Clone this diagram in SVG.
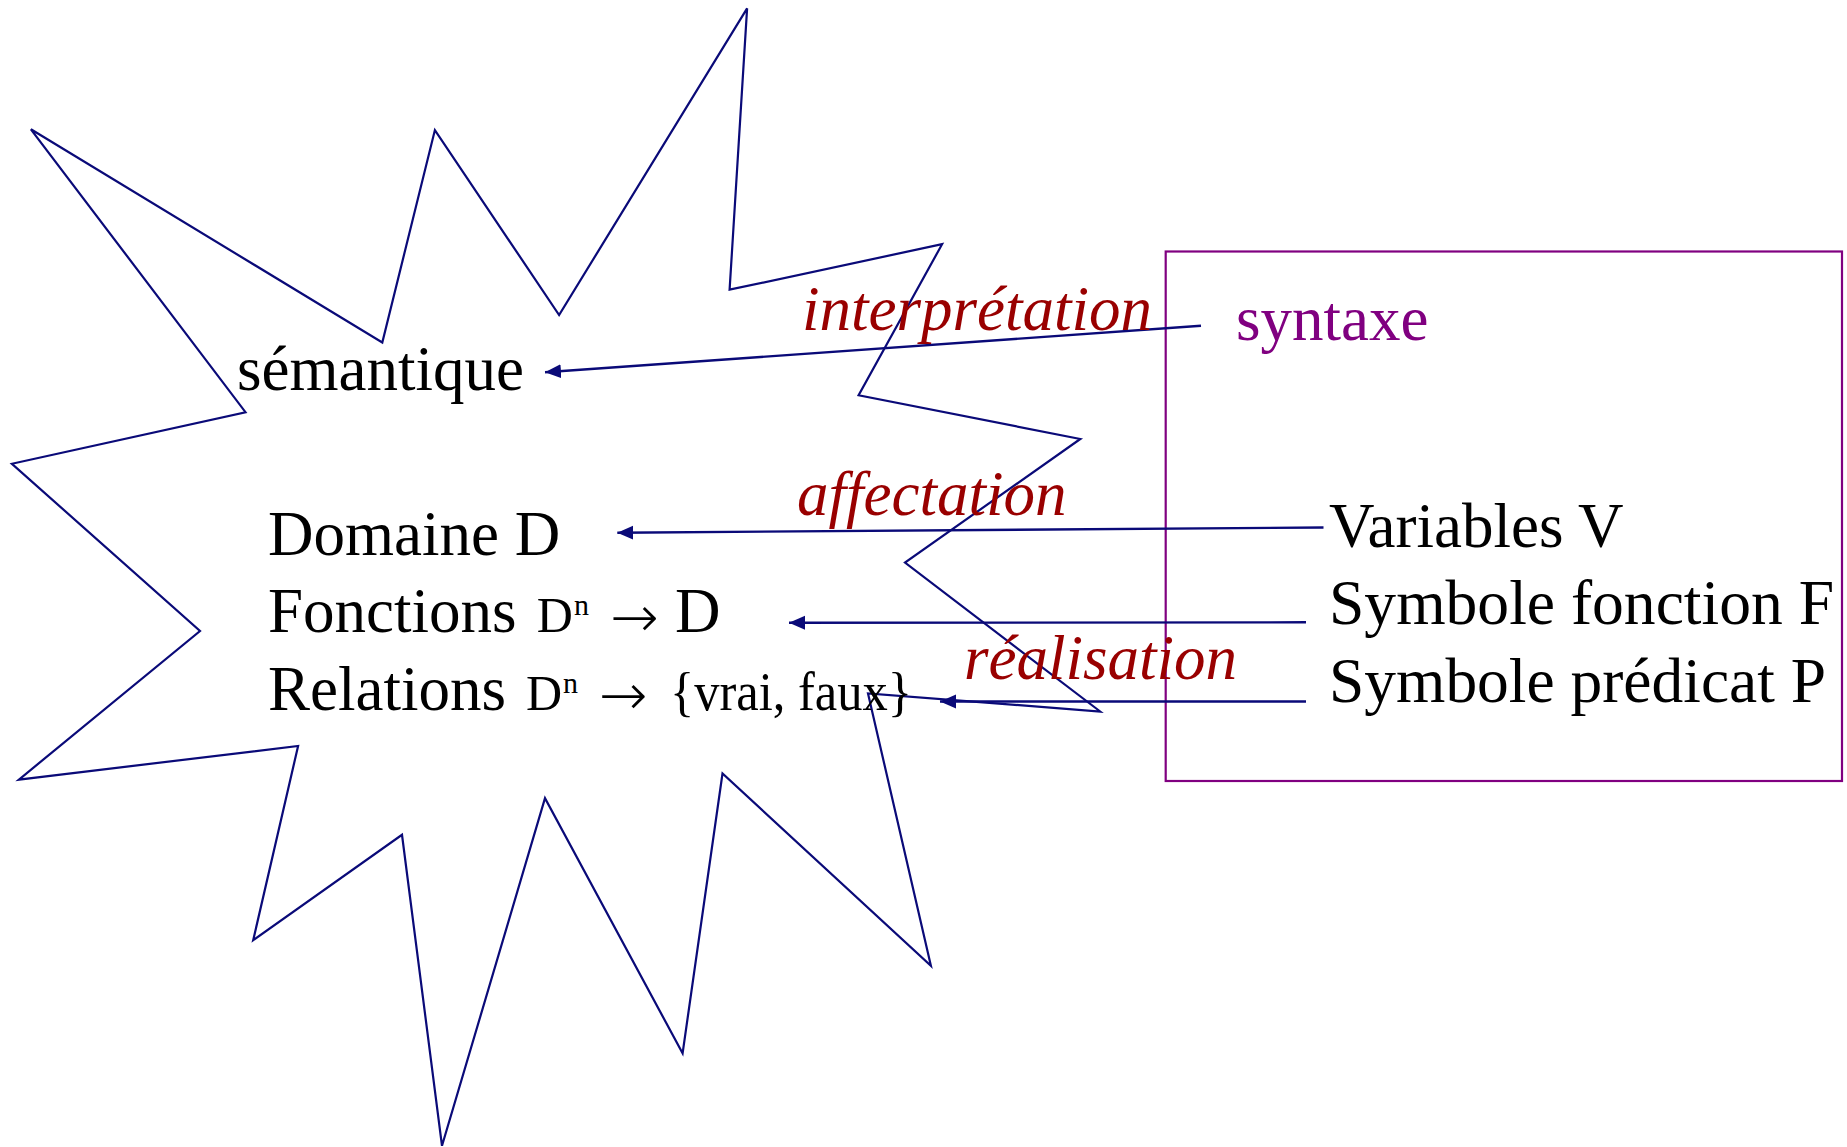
<svg xmlns="http://www.w3.org/2000/svg" width="1847" height="1147" viewBox="0 0 1847 1147">
<style>
  .t { font-family: "Liberation Serif", "Times New Roman", serif; fill: #000; }
  .main { font-size: 63px; }
  .sm { font-size: 50px; }
  .sup { font-size: 30px; }
  .arr { font-family: "DejaVu Sans", sans-serif; font-weight: 200; font-size: 58px; fill: #000; }
  .lbl { font-family: "Liberation Serif", "Times New Roman", serif; font-style: italic; font-size: 63px; fill: #990000; }
  .star { fill: none; stroke: #0a0a78; stroke-width: 2.2; stroke-linejoin: miter; }
  .box { fill: none; stroke: #800080; stroke-width: 2.2; }
  .conn { fill: none; stroke: #0a0a78; stroke-width: 2.4; marker-end: url(#ah); }
</style>
<defs>
  <marker id="ah" markerUnits="userSpaceOnUse" markerWidth="18" markerHeight="16" refX="16" refY="7" orient="auto">
    <path d="M0,0 L16,7 L0,14 Z" fill="#0a0a78"/>
  </marker>
</defs>
<rect width="1847" height="1147" fill="#ffffff"/>

<g id="semantique-shape">
  <polygon class="star" points="30.9,129.3 382.3,342.5 434.9,130.1 559.1,315 747.1,8.4 729.6,289.7 942.1,244.2 858.6,395.3 1080.3,439 905,562.6 1100.2,711.5 868,693.5 930.9,965.7 722.5,773.5 682.6,1053.3 545,798.2 442,1145.8 402,834.8 253.2,940.2 298.1,746 18.9,779.6 200,631 11.9,463.8 245.5,412.2"/>
</g>

<g id="syntaxe-box">
  <rect class="box" x="1165.7" y="251.5" width="676.3" height="529.5"/>
</g>

<g id="node-semantique">
  <text class="t main" x="237" y="390">sémantique</text>
</g>
<g id="node-domaine">
  <text class="t main" x="268" y="555">Domaine D</text>
</g>
<g id="node-fonctions">
  <text class="t main" x="268" y="632">Fonctions</text>
  <text class="t sm" x="536.7" y="632">D</text>
  <text class="t sup" x="574" y="615">n</text>
  <text class="arr" x="610" y="637">→</text>
  <text class="t main" x="675" y="632">D</text>
</g>
<g id="node-relations">
  <text class="t main" x="268" y="710">Relations</text>
  <text class="t sm" x="526" y="710">D</text>
  <text class="t sup" x="563" y="693">n</text>
  <text class="arr" x="598.7" y="715">→</text>
  <text class="t" x="670" y="710" font-size="54" textLength="242" lengthAdjust="spacingAndGlyphs">{vrai, faux}</text>
</g>

<g id="node-syntaxe">
  <text class="t" x="1236" y="340" font-size="63" style="fill:#800080">syntaxe</text>
</g>
<g id="node-variables">
  <text class="t main" x="1329" y="547">Variables V</text>
</g>
<g id="node-symbole-fonction">
  <text class="t main" x="1329" y="624" textLength="505" lengthAdjust="spacingAndGlyphs">Symbole fonction F</text>
</g>
<g id="node-symbole-predicat">
  <text class="t main" x="1329" y="702" textLength="497" lengthAdjust="spacingAndGlyphs">Symbole prédicat P</text>
</g>

<g id="connectors">
  <line class="conn" x1="1201" y1="325.7" x2="545" y2="372.3"/>
  <line class="conn" x1="1323.5" y1="527.5" x2="617.3" y2="532.7"/>
  <line class="conn" x1="1306" y1="622.3" x2="789" y2="622.8"/>
  <line class="conn" x1="1306" y1="701.5" x2="940" y2="701.5"/>
  <text class="lbl" x="802" y="330">interprétation</text>
  <text class="lbl" x="797" y="515">affectation</text>
  <text class="lbl" x="964" y="679">réalisation</text>
</g>
</svg>
